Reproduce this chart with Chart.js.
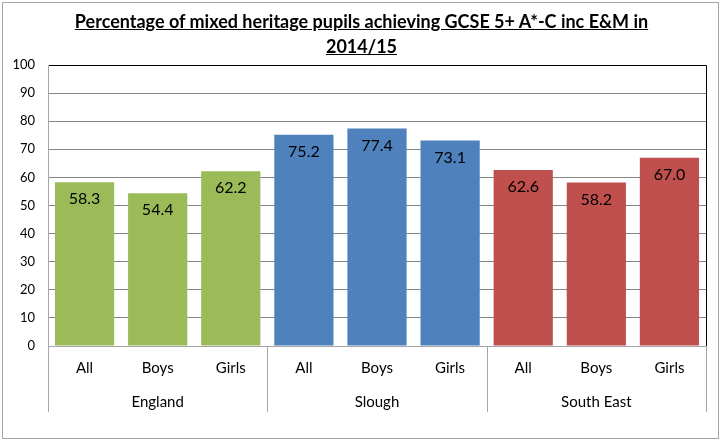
<!DOCTYPE html>
<html>
<head>
<meta charset="utf-8">
<script src="https://cdn.jsdelivr.net/npm/chart.js@4/dist/chart.umd.min.js"></script>
<style>
  body { margin: 0; background: #fff; }
  #wrap { position: relative; width: 723px; height: 441px; font-family: Lato, 'Liberation Sans', sans-serif; }
  #frame { position: absolute; left: 2px; top: 2px; width: 717px; height: 437px; border: 1px solid #a6a6a6; box-sizing: border-box; }
  #title { position: absolute; left: 0; top: 9px; width: 723px; text-align: center; font-weight: bold; font-size: 18px; line-height: 25px; text-decoration: underline; color: #000; }
  #chart { position: absolute; left: 0; top: 0; }
</style>
</head>
<body>
<div id="wrap">
  <div id="frame"></div>
  <canvas id="chart" width="723" height="441"></canvas>
  <div id="title">Percentage of mixed heritage pupils achieving GCSE 5+ A*-C inc E&amp;M in<br>2014/15</div>
</div>
<script>
const subLabels = ['All', 'Boys', 'Girls', 'All', 'Boys', 'Girls', 'All', 'Boys', 'Girls'];
const groupLabels = ['England', 'Slough', 'South East'];
const values = [58.3, 54.4, 62.2, 75.2, 77.4, 73.1, 62.6, 58.2, 67.0];
const yTicks = [0, 10, 20, 30, 40, 50, 60, 70, 80, 90, 100];

const COLORS = {
  green: '#9BBB59',
  blue: '#4F81BD',
  red: '#C0504D',
  grid: '#868686',
  axis: '#a6a6a6',
};
const barColors = values.map((v, i) => [COLORS.green, COLORS.blue, COLORS.red][Math.floor(i / 3)]);
const FONT = "Lato, 'Liberation Sans', sans-serif";

// value labels inside bars, frame lines, group separators
const decorPlugin = {
  id: 'decor',
  afterDatasetsDraw(chart) {
    const { ctx, chartArea } = chart;
    const meta = chart.getDatasetMeta(0);
    ctx.save();
    ctx.font = `16px ${FONT}`;
    ctx.fillStyle = '#000';
    ctx.textAlign = 'center';
    ctx.textBaseline = 'top';
    meta.data.forEach((bar, i) => {
      ctx.fillText(values[i].toFixed(1), bar.x, bar.y + 9);
    });

    // plot border top/right
    ctx.strokeStyle = '#000';
    ctx.lineWidth = 1;
    ctx.beginPath();
    ctx.moveTo(chartArea.left, chartArea.top + 0.5);
    ctx.lineTo(chartArea.right + 0.5, chartArea.top + 0.5);
    ctx.lineTo(chartArea.right + 0.5, chartArea.bottom);
    ctx.stroke();

    // category axis + separators
    const x = chart.scales.x;
    const bottom = chart.scales.x2.bottom;
    ctx.strokeStyle = COLORS.axis;
    ctx.beginPath();
    ctx.moveTo(chartArea.left, chartArea.bottom + 0.5);
    ctx.lineTo(chartArea.right, chartArea.bottom + 0.5);
    ctx.moveTo(chartArea.left + 0.5, chartArea.top);
    ctx.lineTo(chartArea.left + 0.5, chartArea.bottom);
    [0, 3, 6, 9].forEach((k) => {
      let px;
      if (k === 0) px = chartArea.left;
      else if (k === 9) px = chartArea.right;
      else px = (x.getPixelForValue(k - 1) + x.getPixelForValue(k)) / 2;
      px = Math.round(px) + 0.5;
      ctx.moveTo(px, chartArea.bottom);
      ctx.lineTo(px, bottom);
    });
    ctx.stroke();
    ctx.restore();
  },
};

new Chart(document.getElementById('chart'), {
  type: 'bar',
  data: {
    labels: subLabels,
    datasets: [{
      data: values,
      backgroundColor: barColors,
      borderWidth: 0,
      barPercentage: 0.81,
      categoryPercentage: 1,
    }],
  },
  options: {
    responsive: false,
    animation: false,
    layout: { padding: { left: 0, top: 65, right: 17, bottom: 29 } },
    plugins: {
      legend: { display: false },
      tooltip: { enabled: false },
    },
    scales: {
      x: {
        position: 'bottom',
        grid: { display: false },
        border: { display: false },
        ticks: { color: '#000', font: { size: 15, family: FONT }, padding: 5, maxRotation: 0 },
        afterFit: (s) => { s.height = 33; },
      },
      x2: {
        type: 'category',
        labels: groupLabels,
        position: 'bottom',
        offset: true,
        grid: { display: false },
        border: { display: false },
        ticks: { color: '#000', font: { size: 15, family: FONT }, padding: 6, maxRotation: 0 },
        afterFit: (s) => { s.height = 33; },
      },
      y: {
        min: 0,
        max: 100,
        afterBuildTicks: (s) => { s.ticks = yTicks.map((v) => ({ value: v })); },
        grid: { color: COLORS.grid, drawTicks: false },
        border: { display: false },
        ticks: { color: '#000', font: { size: 13, family: FONT }, padding: 13 },
        afterFit: (s) => { s.width = 48; },
      },
    },
  },
  plugins: [decorPlugin],
});
</script>
</body>
</html>
